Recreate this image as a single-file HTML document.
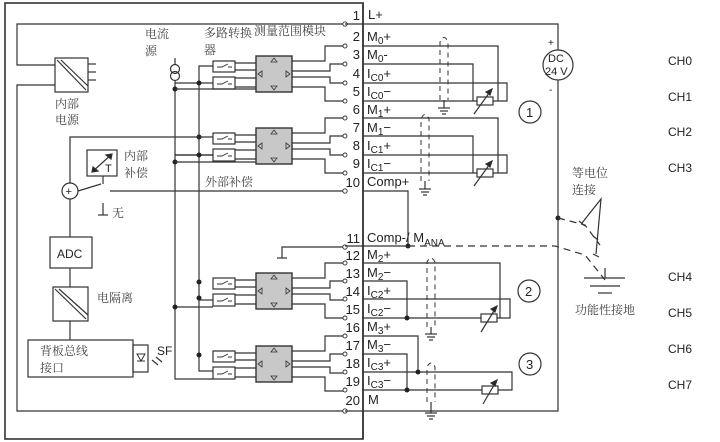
<!DOCTYPE html>
<html><head><meta charset="utf-8"><style>
body{margin:0;background:#fff}
svg{display:block}
text{font-family:"Liberation Sans","Noto Sans CJK SC",sans-serif;fill:#222}
.c{font-family:"Liberation Serif","Noto Serif CJK SC",serif;fill:#444}
</style></head><body>
<svg width="720" height="442" viewBox="0 0 720 442" xmlns="http://www.w3.org/2000/svg" stroke="#333" stroke-width="1.2" fill="none">
<!-- outer module -->
<rect x="5" y="3" width="358" height="436" stroke-width="1.6"/>
<!-- inner frame -->
<polyline points="345,24 17,24 17,65 55,65"/>
<polyline points="55,85 17,85 17,411 345,411"/>
<!-- power supply -->
<rect x="55" y="58" width="33" height="34"/>
<line x1="57" y1="60" x2="86" y2="90"/><line x1="61" y1="60" x2="88" y2="86"/>
<line x1="88" y1="64" x2="96" y2="64"/><line x1="88" y1="72" x2="96" y2="72"/><line x1="88" y1="80" x2="96" y2="80"/>
<text x="55" y="108" font-size="12" class="c" stroke="none">内部</text>
<text x="55" y="124" font-size="12" class="c" stroke="none">电源</text>
<text x="145" y="38" font-size="12" class="c" stroke="none">电流</text>
<text x="145" y="55" font-size="12" class="c" stroke="none">源</text>
<text x="204" y="37" font-size="12" class="c" stroke="none">多路转换</text>
<text x="204" y="54" font-size="12" class="c" stroke="none">器</text>
<text x="254" y="35" font-size="12" class="c" stroke="none">测量范围模块</text>
<!-- current source -->
<circle cx="175" cy="69" r="4.5"/><circle cx="175" cy="76" r="4.5"/>
<line x1="175" y1="58" x2="175" y2="64"/>
<polyline points="175,81 175,379 213,379"/>
<polyline points="213,66 199,66 199,371 213,371"/>
<!-- multiplexer groups -->
<g id="mux">
<rect x="213" y="61" width="22" height="11"/><rect x="213" y="77" width="22" height="12"/>
<path d="M217,67 h5 l6,-3 M228,67 h4 M217,84 h5 l6,-3 M228,84 h4" stroke-width="0.9"/>
<line x1="235" y1="70" x2="256" y2="70"/><line x1="235" y1="78" x2="256" y2="78"/><line x1="235" y1="87" x2="256" y2="87"/>
<line x1="235" y1="63" x2="256" y2="63"/>
<rect x="256" y="56" width="36" height="36" fill="#c8c8c8" stroke-width="1.4"/>
<path d="M271,62 l3,-4 l3,4z M271,86 l3,4 l3,-4z M262,71 l-4,3 l4,3z M286,71 l4,3 l-4,3z" stroke-width="0.8"/>
<polyline points="292,61 325,61 325,46 345,46"/>
<polyline points="292,71 330,71 330,64 345,64"/>
<polyline points="292,77 330,77 330,83 345,83"/>
<polyline points="292,87 325,87 325,101 345,101"/>
</g>
<use href="#mux" y="72"/>
<use href="#mux" y="217"/>
<use href="#mux" y="290"/>
<polyline points="213,83 175,83"/><line x1="213" y1="155" x2="175" y2="155"/>
<polyline points="213,155 175,155"/>
<line x1="199" y1="300" x2="213" y2="300"/>
<line x1="175" y1="307" x2="213" y2="307"/>
<g fill="#222" stroke="none">
<circle cx="175" cy="89" r="2.5"/><circle cx="199" cy="83" r="2.5"/><circle cx="199" cy="137" r="2.5"/><circle cx="199" cy="155" r="2.5"/><circle cx="175" cy="162" r="2.5"/>
<circle cx="199" cy="282" r="2.5"/><circle cx="199" cy="298" r="2.5"/><circle cx="175" cy="307" r="2.5"/><circle cx="199" cy="355" r="2.5"/>
</g>
<line x1="175" y1="89" x2="256" y2="89"/>
<line x1="175" y1="162" x2="256" y2="162"/>
<!-- internal compensation -->
<polyline points="70,183 70,137 213,137"/>
<rect x="87" y="150" width="30" height="26"/>
<line x1="92" y1="172" x2="112" y2="154"/>
<path d="M112,154 l-6,1 l5,4z M92,172 l6,-1 l-5,-4z" fill="#222"/>
<text x="105" y="172" font-size="11" stroke="none">T</text>
<text x="124" y="160" font-size="12" class="c" stroke="none">内部</text>
<text x="124" y="177" font-size="12" class="c" stroke="none">补偿</text>
<circle cx="70" cy="191" r="8"/>
<text x="65.5" y="195" font-size="11" stroke="none">+</text>
<polyline points="103,176 103,184"/>
<line x1="78" y1="191" x2="101" y2="184"/>
<line x1="110" y1="191" x2="345" y2="191"/>
<text x="205" y="186" font-size="12" class="c" stroke="none">外部补偿</text>
<line x1="103" y1="203" x2="103" y2="215"/><line x1="98" y1="215" x2="108" y2="215"/>
<text x="112" y="217" font-size="12" class="c" stroke="none">无</text>
<line x1="70" y1="199" x2="70" y2="237"/>
<rect x="50" y="237" width="42" height="31"/>
<text x="57" y="258" font-size="12" stroke="none">ADC</text>
<line x1="70" y1="268" x2="70" y2="287"/>
<rect x="53" y="287" width="35" height="34"/>
<line x1="55" y1="289" x2="86" y2="319"/><line x1="59" y1="289" x2="88" y2="315"/>
<text x="97" y="302" font-size="12" class="c" stroke="none">电隔离</text>
<line x1="70" y1="321" x2="70" y2="340"/>
<rect x="28" y="340" width="105" height="37"/>
<text x="40" y="355" font-size="12" class="c" stroke="none">背板总线</text>
<text x="40" y="372" font-size="12" class="c" stroke="none">接口</text>
<rect x="133" y="345" width="15" height="27"/>
<path d="M137,354 h8 l-4,7z M137,361 h8" stroke-width="1"/>
<path d="M152,360 l6,5 M156,357 l6,5" stroke-width="1.2"/>
<text x="157" y="355" font-size="12" stroke="none">SF</text>
<!-- comp-/Mana -->
<polyline points="345,247 282,247 282,258"/><line x1="277" y1="258" x2="287" y2="258"/>
<!-- terminal column -->
<line x1="363" y1="3" x2="363" y2="439" stroke-width="1.6"/>
<g fill="#fff" stroke-width="0.9">
<circle cx="345" cy="24" r="2.2"/><circle cx="345" cy="46" r="2"/><circle cx="345" cy="64" r="2"/><circle cx="345" cy="83" r="2"/><circle cx="345" cy="101" r="2"/><circle cx="345" cy="118" r="2"/><circle cx="345" cy="136" r="2"/><circle cx="345" cy="155" r="2"/><circle cx="345" cy="173" r="2"/><circle cx="345" cy="191" r="2.2"/>
<circle cx="345" cy="247" r="2.2"/><circle cx="345" cy="263" r="2"/><circle cx="345" cy="281" r="2"/><circle cx="345" cy="299" r="2"/><circle cx="345" cy="318" r="2"/><circle cx="345" cy="336" r="2"/><circle cx="345" cy="354" r="2"/><circle cx="345" cy="372" r="2"/><circle cx="345" cy="390" r="2"/><circle cx="345" cy="411" r="2.2"/>
</g>
<g font-size="13" stroke="none" text-anchor="end">
<text x="360" y="20">1</text><text x="360" y="41">2</text><text x="360" y="59">3</text><text x="360" y="78">4</text><text x="360" y="96">5</text><text x="360" y="114">6</text><text x="360" y="132">7</text><text x="360" y="150">8</text><text x="360" y="168">9</text><text x="360" y="187">10</text>
<text x="360" y="243">11</text><text x="360" y="260">12</text><text x="360" y="278">13</text><text x="360" y="296">14</text><text x="360" y="314">15</text><text x="360" y="332">16</text><text x="360" y="350">17</text><text x="360" y="368">18</text><text x="360" y="386">19</text><text x="360" y="405">20</text>
</g>
<g font-size="13" stroke="none">
<text x="368" y="19">L+</text>
<text x="367" y="41">M<tspan font-size="10" dy="3">0</tspan><tspan dy="-3">+</tspan></text>
<text x="367" y="59">M<tspan font-size="10" dy="3">0</tspan><tspan dy="-3">-</tspan></text>
<text x="367" y="78">I<tspan font-size="10" dy="3">C0</tspan><tspan dy="-3">+</tspan></text>
<text x="367" y="96">I<tspan font-size="10" dy="3">C0</tspan><tspan dy="-3">−</tspan></text>
<text x="367" y="114">M<tspan font-size="10" dy="3">1</tspan><tspan dy="-3">+</tspan></text>
<text x="367" y="132">M<tspan font-size="10" dy="3">1</tspan><tspan dy="-3">−</tspan></text>
<text x="367" y="150">I<tspan font-size="10" dy="3">C1</tspan><tspan dy="-3">+</tspan></text>
<text x="367" y="168">I<tspan font-size="10" dy="3">C1</tspan><tspan dy="-3">−</tspan></text>
<text x="367" y="186">Comp+</text>
<text x="367" y="242">Comp-/ M<tspan font-size="10" dy="4">ANA</tspan></text>
<text x="367" y="259">M<tspan font-size="10" dy="3">2</tspan><tspan dy="-3">+</tspan></text>
<text x="367" y="277">M<tspan font-size="10" dy="3">2</tspan><tspan dy="-3">−</tspan></text>
<text x="367" y="295">I<tspan font-size="10" dy="3">C2</tspan><tspan dy="-3">+</tspan></text>
<text x="367" y="313">I<tspan font-size="10" dy="3">C2</tspan><tspan dy="-3">−</tspan></text>
<text x="367" y="331">M<tspan font-size="10" dy="3">3</tspan><tspan dy="-3">+</tspan></text>
<text x="367" y="349">M<tspan font-size="10" dy="3">3</tspan><tspan dy="-3">−</tspan></text>
<text x="367" y="367">I<tspan font-size="10" dy="3">C3</tspan><tspan dy="-3">+</tspan></text>
<text x="367" y="385">I<tspan font-size="10" dy="3">C3</tspan><tspan dy="-3">−</tspan></text>
<text x="368" y="404">M</text>
</g>
<!-- right wiring: L+ and M -->
<polyline points="345,24 558,24 558,50"/>
<circle cx="558" cy="65" r="15"/>
<text x="548" y="62" font-size="11" stroke="none">DC</text>
<text x="545" y="75" font-size="11" stroke="none">24 V</text>
<text x="548" y="46" font-size="10" stroke="none">+</text>
<text x="549" y="93" font-size="10" stroke="none">-</text>
<polyline points="558,80 558,411 345,411"/>
<circle cx="558" cy="218" r="2.5" fill="#222" stroke="none"/>
<polyline points="363,191 408,191 408,247"/>
<circle cx="408" cy="246" r="2.5" fill="#222" stroke="none"/>
<line x1="345" y1="246" x2="408" y2="246"/>
<path d="M408,246 H555 L585,255 L605,280" stroke-dasharray="7,5"/>
<path d="M558,218 L585,225 L600,245" stroke-dasharray="7,5"/>
<!-- equipotential -->
<text x="572" y="177" font-size="12" class="c" stroke="none">等电位</text>
<text x="572" y="194" font-size="12" class="c" stroke="none">连接</text>
<polyline points="582,223 601,199 596,254"/>
<line x1="579" y1="221" x2="585" y2="226"/><line x1="593" y1="236" x2="598" y2="240"/><line x1="593" y1="254" x2="599" y2="257"/>
<line x1="605" y1="268" x2="605" y2="278"/>
<line x1="584" y1="278" x2="625" y2="278"/><line x1="590" y1="286" x2="620" y2="286"/><line x1="598" y1="293" x2="612" y2="293"/>
<text x="575" y="314" font-size="12" class="c" stroke="none">功能性接地</text>
<!-- CH labels -->
<g font-size="12" stroke="none">
<text x="668" y="65">CH0</text><text x="668" y="101">CH1</text><text x="668" y="136">CH2</text><text x="668" y="172">CH3</text>
<text x="668" y="281">CH4</text><text x="668" y="317">CH5</text><text x="668" y="353">CH6</text><text x="668" y="389">CH7</text>
</g>
<!-- circled numbers -->
<circle cx="530" cy="112" r="11"/><text x="526" y="117" font-size="13" stroke="none">1</text>
<circle cx="529" cy="291" r="11"/><text x="525" y="296" font-size="13" stroke="none">2</text>
<circle cx="530" cy="364" r="11"/><text x="526" y="369" font-size="13" stroke="none">3</text>
<!-- sensor group 0 -->
<g id="rtd">
<polyline points="363,46 498,46 498,101"/>
<polyline points="363,64 473,64 473,101"/>
<polyline points="363,83 507,83 507,101 363,101"/>
<rect x="477" y="97" width="16" height="8" fill="#fff"/>
<line x1="474" y1="114" x2="492" y2="89"/><path d="M492,89 l-6,3 l4,3z" fill="#222"/>
</g>
<use href="#rtd" y="72"/>
<!-- shields -->
<path d="M440,100 V42 Q444,33 448,42 V100" stroke-dasharray="5,4" stroke-width="1"/>
<line x1="444" y1="100" x2="444" y2="108"/><line x1="438" y1="108" x2="450" y2="108"/><line x1="440" y1="111" x2="448" y2="111"/><line x1="442" y1="114" x2="446" y2="114"/>
<path d="M421,181 V119 Q425,110 429,119 V181" stroke-dasharray="5,4" stroke-width="1"/>
<line x1="425" y1="181" x2="425" y2="189"/><line x1="419" y1="189" x2="431" y2="189"/><line x1="421" y1="192" x2="429" y2="192"/><line x1="423" y1="195" x2="427" y2="195"/>
<path d="M427,327 V262 Q431,254 435,262 V327" stroke-dasharray="5,4" stroke-width="1"/>
<line x1="431" y1="327" x2="431" y2="334"/><line x1="425" y1="334" x2="437" y2="334"/><line x1="427" y1="337" x2="435" y2="337"/><line x1="429" y1="340" x2="433" y2="340"/>
<path d="M427,402 V367 Q431,359 435,367 V402" stroke-dasharray="5,4" stroke-width="1"/>
<line x1="431" y1="402" x2="431" y2="413"/><line x1="425" y1="413" x2="437" y2="413"/><line x1="427" y1="416" x2="435" y2="416"/><line x1="429" y1="419" x2="433" y2="419"/>
<!-- group 2 -->
<polyline points="363,263 500,263 500,318"/>
<polyline points="363,281 407,281 407,318"/>
<polyline points="363,299 510,299 510,318 363,318"/>
<circle cx="407" cy="318" r="2.5" fill="#222" stroke="none"/>
<rect x="481" y="314" width="16" height="8" fill="#fff"/>
<line x1="481" y1="332" x2="497" y2="306"/><path d="M497,306 l-6,3 l4,3z" fill="#222"/>
<!-- group 3 -->
<polyline points="363,336 418,336 418,372"/>
<polyline points="363,354 407,354 407,390"/>
<polyline points="363,372 512,372 512,390 363,390"/>
<circle cx="418" cy="372" r="2.5" fill="#222" stroke="none"/>
<circle cx="407" cy="390" r="2.5" fill="#222" stroke="none"/>
<rect x="482" y="386" width="16" height="8" fill="#fff"/>
<line x1="483" y1="404" x2="497" y2="380"/><path d="M497,380 l-6,3 l4,3z" fill="#222"/>
</svg>
</body></html>
